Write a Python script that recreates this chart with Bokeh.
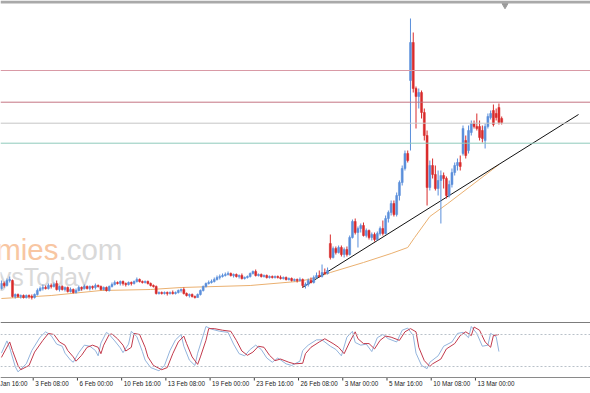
from bokeh.plotting import figure
from bokeh.models import Range1d, BoxAnnotation, Span
from bokeh.layouts import column
from bokeh.embed import file_html
from bokeh.resources import INLINE
from bokeh.core.properties import value

# ---------------- data (H4 candles) ----------------
opens = [42,47,45,50,50,34,36,34,35,33,35,34,33,36,40,42,43,42,45,44,
         47,41,44,41,43,39,41,38,40,43,42,44,42,44,43,45,44,41,43,40,
         44,46,48,47,49,47,46,48,47,49,51,49,48,49,47,45,44,37,38,37,
         38,37,38,37,38,40,41,37,35,36,34,33,36,40,44,47,48,49,51,53,
         54,55,56,57,55,56,54,55,52,53,54,57,59,55,56,54,55,53,54,53,
         54,53,52,53,51,52,50,51,50,51,45,46,50,48,53,55,54,58,57,87,73,
         82,78,83,76,81,76,93,109,98,102,105,95,100,93,96,91,97,102,97,112,
         118,127,116,135,148,162,177,250,288,242,234,238,218,195,143,165,156,142,150,155,
         152,135,146,158,165,168,177,190,180,198,207,204,204,200,190,204,213,220,217,223,
         212]
highs = [50,49,52,54,51,37,37,36,36,36,36,36,37,42,44,46,45,47,47,48,
         50,45,45,44,44,43,42,42,45,44,46,45,45,45,47,46,45,44,44,45,
         48,50,49,50,50,48,49,49,50,53,52,50,50,50,48,46,45,39,39,39,
         39,39,40,39,41,42,43,38,37,37,35,37,41,45,48,50,51,53,55,56,
         57,58,59,58,57,57,56,57,54,55,58,60,61,57,57,56,56,55,55,55,
         55,55,54,54,53,53,52,52,53,52,48,52,53,55,58,60,66,62,63,96,84,
         84,85,85,83,84,95,111,112,104,107,108,102,101,98,98,99,104,110,115,120,
         130,130,138,150,165,180,180,312,298,244,242,240,222,200,170,172,165,160,160,158,
         154,150,162,168,172,175,205,195,205,210,210,217,210,205,207,217,220,226,222,227,
         214]
lows = [41,43,44,48,33,32,33,32,32,32,32,31,32,35,39,40,41,41,42,43,
        40,39,40,39,38,38,37,37,39,40,41,41,40,41,41,43,40,40,39,39,
        43,45,46,45,45,44,45,45,46,48,48,47,47,46,44,43,36,36,36,36,
        35,36,36,36,37,38,36,34,33,33,32,33,35,39,43,46,47,48,50,51,
        53,54,55,54,53,53,52,51,51,52,53,56,54,54,53,53,52,52,52,52,
        52,51,51,50,50,49,49,48,49,43,42,44,47,47,52,53,53,56,56,71,72,
        76,77,74,73,74,75,92,96,83,98,94,93,91,90,89,90,95,95,96,108,
        115,114,114,130,145,160,168,180,238,202,222,212,190,125,140,152,140,135,107,142,
        132,133,143,155,160,160,175,172,177,195,202,200,190,188,182,202,211,204,210,206,
        206]
closes = [47,45,50,51,34,36,34,35,33,35,34,33,36,40,42,43,42,45,44,46,
          41,44,41,43,39,41,38,40,43,42,44,42,44,43,45,44,41,43,40,44,
          46,48,47,49,47,46,48,47,49,51,49,48,49,47,45,44,37,38,37,38,
          37,38,37,38,40,41,37,35,36,34,33,36,40,44,47,48,49,51,53,54,
          55,56,57,55,56,54,55,52,53,54,57,59,55,56,54,55,53,54,53,54,
          53,52,53,51,52,50,51,50,51,45,46,50,48,53,55,54,58,57,60,73,82,
          78,83,76,81,76,93,109,98,102,105,95,100,93,96,91,97,102,97,112,118,
          127,116,135,148,162,177,170,288,242,234,238,218,195,143,165,156,142,150,155,152,
          135,146,158,165,168,164,202,175,200,207,204,202,193,192,204,214,217,206,213,208,
          208]
bars = list(range(len(closes)))

# moving average
ma_bar = [0, 18, 36, 54, 65, 90, 107, 113, 119, 131, 141, 147, 149.5, 155, 161.5, 171, 180]
ma_val = [32, 35, 40, 41, 43, 45, 49, 52, 58, 68, 77, 83, 93, 114, 127, 147, 166]

# trend line end points (bar, price)
trend_bar = [108.9, 208.8]
trend_val = [43, 216]

# horizontal levels
levels = [260, 228.3, 207.3, 187.3]
level_colors = ["#d99aa6", "#c47483", "#c6c6c6", "#8fcabb"]

# stochastic oscillator
k_bar = [0,2,3,5,6,9,11,14,16,18,20,22,23,25,26,28,30,32,34,35,36,38,39,41,43,44,46,47,49,51,
         52,54,57,59,61,63,65,66,68,70,71,73,74,76,79,82,84,86,88,90,92,94,96,98,100,103,105,108,
         109,111,114,116,119,121,123,125,127,128,130,132,134,136,138,140,143,145,147,149,150,152,
         154,155,158,160,163,165,167,169,170,172,174,176,177,179,180]
k_val = [45,68,55,20,10,25,50,75,85,78,62,58,45,32,28,46,60,58,50,40,64,84,80,68,55,46,62,86,76,48,
         32,18,12,22,50,70,80,58,32,22,45,78,95,90,86,84,62,44,40,52,60,52,36,28,36,25,22,30,
         50,60,70,70,58,52,40,75,86,65,60,62,48,74,80,72,66,88,92,78,45,22,
         16,28,40,58,66,82,84,74,95,82,58,60,82,76,48]
d_bar = [0,3,4,6,7,10,12,15,17,19,21,23,24,26,27,29,31,33,35,36,37,39,40,42,44,45,47,48,50,52,
         53,55,58,60,62,64,66,67,69,71,72,74,75,77,80,83,85,87,89,91,93,95,97,99,101,104,106,109,
         110,112,115,117,120,122,124,126,128,129,131,133,135,137,139,141,144,146,148,150,151,153,
         155,156,159,161,164,166,168,170,171,173,175,177,178,180]
d_val = [37,66,50,22,14,22,47,69,82,80,66,60,50,38,30,41,56,60,56,44,60,80,81,72,60,49,56,82,80,56,
         38,22,14,18,44,66,77,63,38,24,38,69,91,91,88,86,69,49,41,47,58,56,41,31,34,28,25,26,
         44,56,66,72,63,56,44,66,85,72,63,63,53,69,77,75,69,85,91,85,56,31,
         20,25,34,53,63,78,85,78,94,88,66,56,78,80]

# time-axis labels (bar at which each label stands)
tick_bar = [-4, 12, 28, 44, 60, 76, 92, 108, 124, 140, 156, 172]
tick_text = ["29 Jan 16:00", "3 Feb 08:00", "6 Feb 00:00", "10 Feb 16:00", "13 Feb 08:00",
             "19 Feb 00:00", "23 Feb 16:00", "26 Feb 08:00", "3 Mar 00:00", "5 Mar 16:00",
             "10 Mar 08:00", "13 Mar 00:00"]

# ---------------- layout / styling ----------------
W = 590
PX_PER_BAR = 2.764
X0 = -0.33
X1 = X0 + W / PX_PER_BAR
UP, DOWN = "#5b8fdb", "#d92b2b"
FONT = "Liberation Sans"

xr = Range1d(X0, X1)
p = figure(width=W, height=323, x_range=xr, y_range=Range1d(7, 330),
           output_backend="svg", toolbar_location=None, min_border=0,
           x_axis_location=None, y_axis_location=None)
p.grid.visible = False
p.outline_line_color = None

# watermark
wm_split = X0 + 58 / PX_PER_BAR
p.text(x=[wm_split], y=[81], text=["Economies"], text_align="right", text_baseline="alphabetic",
       text_font=value(FONT), text_font_size="29.5px", text_color="#f8c6a2")
p.text(x=[wm_split], y=[81], text=[".com"], text_align="left", text_baseline="alphabetic",
       text_font=value(FONT), text_font_size="29.5px", text_color="#d9d9d9")
p.text(x=[X0 + 90 / PX_PER_BAR], y=[54], text=["ysToday"], text_align="right",
       text_baseline="alphabetic", text_font=value(FONT), text_font_size="25px",
       text_color="#d9d9d9")

for lv, lc in zip(levels, level_colors):
    p.add_layout(Span(location=lv, dimension="width", line_color=lc, line_width=1))

p.line(ma_bar, ma_val, line_color="#eab070", line_width=1)
p.line(trend_bar, trend_val, line_color="#111111", line_width=1)

colors = [UP if c >= o else DOWN for o, c in zip(opens, closes)]
p.segment(x0=bars, y0=lows, x1=bars, y1=highs, line_color=colors, line_width=1)
p.vbar(x=bars, width=0.72, top=[max(o, c) for o, c in zip(opens, closes)],
       bottom=[min(o, c) for o, c in zip(opens, closes)], fill_color=colors, line_color=colors,
       line_width=0.5)

# window chrome: top border, shift marker, pane separator
p.add_layout(BoxAnnotation(bottom=327, fill_color="#a9a9a9", fill_alpha=1, line_color=None))
p.scatter(x=[182.2], y=[325.2], marker="inverted_triangle", size=6, color="#9a9a9a")
p.add_layout(BoxAnnotation(top=8.6, fill_color="#7c7c7c", fill_alpha=1, line_color=None))

# stochastic pane; the frame also holds the time scale underneath
S_PX = 0.5336            # pixels per oscillator unit
S_TOP = 100.6
S_H = 67
s = figure(width=W, height=S_H, x_range=xr, y_range=Range1d(S_TOP - S_H / S_PX, S_TOP),
           output_backend="svg", toolbar_location=None, min_border=0,
           x_axis_location=None, y_axis_location=None)
s.grid.visible = False
s.outline_line_color = None
for lv in (80, 20):
    s.add_layout(Span(location=lv, dimension="width", line_color="#b9c1c9",
                      line_width=1, line_dash="2 2"))
s.line(k_bar, k_val, line_color="#93b4dc", line_width=1)
s.line(d_bar, d_val, line_color="#c23a4c", line_width=1)

# time scale: base line, tick marks at bar edges, labels right of each tick
axis_y = S_TOP - 54 / S_PX
s.add_layout(Span(location=axis_y, dimension="width", line_color="#8a8a8a", line_width=1))
tick_x = [b - 0.5 for b in tick_bar]
s.segment(x0=tick_x, y0=[axis_y] * len(tick_x), x1=tick_x,
          y1=[axis_y - 3 / S_PX] * len(tick_x), line_color="#404040", line_width=1)
s.text(x=[t + 2 / PX_PER_BAR for t in tick_x], y=[axis_y - 2.6 / S_PX] * len(tick_x),
       text=tick_text, text_align="left", text_baseline="top",
       text_font=value(FONT), text_font_size="6.3px", text_color="#1a1a1a")

strip = figure(width=W, height=3, output_backend="svg", toolbar_location=None, min_border=0,
               x_axis_location=None, y_axis_location=None,
               background_fill_color="#e4e4e4", border_fill_color="#e4e4e4")
strip.outline_line_color = None
strip.grid.visible = False

layout = column(p, s, strip, spacing=0)
open("out.html", "w").write(file_html(layout, INLINE))
